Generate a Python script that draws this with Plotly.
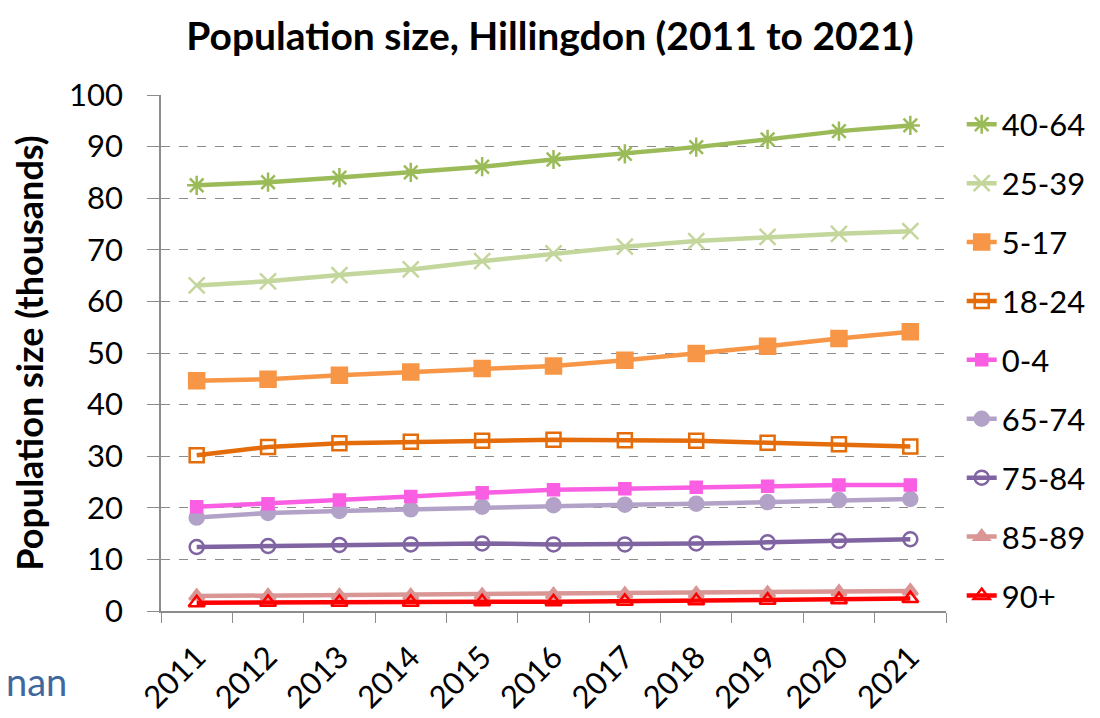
import plotly.graph_objects as go

years = ["2011", "2012", "2013", "2014", "2015", "2016", "2017", "2018", "2019", "2020", "2021"]

age_40_64 = [82.5, 83.1, 84.0, 85.0, 86.1, 87.5, 88.6, 89.9, 91.4, 93.0, 94.1]
age_25_39 = [63.1, 63.9, 65.1, 66.2, 67.8, 69.3, 70.6, 71.7, 72.5, 73.1, 73.6]
age_5_17 = [44.6, 44.9, 45.7, 46.3, 47.0, 47.5, 48.6, 49.9, 51.3, 52.8, 54.1]
age_18_24 = [30.2, 31.8, 32.5, 32.8, 33.0, 33.2, 33.1, 33.0, 32.6, 32.3, 31.9]
age_0_4 = [20.2, 20.8, 21.5, 22.2, 22.9, 23.5, 23.7, 24.0, 24.2, 24.4, 24.4]
age_65_74 = [18.1, 19.0, 19.4, 19.7, 20.2, 20.5, 20.6, 20.8, 21.1, 21.5, 21.7]
age_75_84 = [12.4, 12.6, 12.8, 12.9, 13.1, 12.9, 12.9, 13.1, 13.3, 13.6, 13.9]
age_85_89 = [2.9, 3.0, 3.0, 3.0, 3.1, 3.2, 3.3, 3.4, 3.5, 3.7, 3.9]
age_90_plus = [1.6, 1.7, 1.7, 1.7, 1.8, 1.8, 1.9, 2.0, 2.1, 2.2, 2.4]

FONT = "Lato"

# name, values, color, marker symbol, marker size, legend rank
series = [
    ("85-89", age_85_89, "#d99694", "triangle-up", 13, 8),
    ("90+", age_90_plus, "#ff0000", "triangle-up-open", 14, 9),
    ("75-84", age_75_84, "#8064a2", "circle-open", 14, 7),
    ("65-74", age_65_74, "#b3a2c7", "circle", 14, 6),
    ("0-4", age_0_4, "#f95ee3", "square", 11, 5),
    ("18-24", age_18_24, "#e46c0a", "square-open", 14, 4),
    ("5-17", age_5_17, "#f79646", "square", 15, 3),
    ("25-39", age_25_39, "#c3d69b", "x-thin-open", 16, 2),
    ("40-64", age_40_64, "#9bbb59", "asterisk-open", 16, 1),
]

fig = go.Figure()
for name, vals, color, sym, size, rank in series:
    fig.add_trace(go.Scatter(
        x=years, y=vals, name=name, mode="lines+markers",
        line=dict(color=color, width=4.5),
        marker=dict(symbol=sym, size=size, color=color,
                    line=dict(color=color, width=2.5)),
        legendrank=rank, legendgroup=name,
    ))

fig.update_layout(
    width=1100, height=718,
    margin=dict(l=161, r=154, t=95, b=107, autoexpand=False),
    paper_bgcolor="white", plot_bgcolor="white",
    font=dict(family=FONT, size=31, color="black"),
    title=dict(text="<b>Population size, Hillingdon (2011 to 2021)</b>",
               x=0.5, xanchor="center", y=0.95, yanchor="middle",
               font=dict(family=FONT, size=39, color="black")),
    showlegend=True,
    legend=dict(x=1.02, xanchor="left", y=0.995, yanchor="top",
                font=dict(family=FONT, size=31), tracegroupgap=15.6,
                itemwidth=30, bgcolor="rgba(0,0,0,0)", maxheight=700),
    annotations=[dict(text="nan", xref="paper", yref="paper", x=-0.2, y=-0.135,
                      xanchor="left", yanchor="middle", showarrow=False,
                      font=dict(family=FONT, size=38, color="#41689e"))],
)

fig.update_yaxes(
    range=[0, 100], dtick=10, showgrid=True, gridcolor="#8c8c8c", griddash="dash",
    gridwidth=1, showline=True, linecolor="#8c8c8c", linewidth=1.5,
    ticks="outside", ticklen=12, tickcolor="#8c8c8c", zeroline=False,
    ticklabelstandoff=18, automargin=False,
    tickfont=dict(family=FONT, size=31),
    title=dict(text="<b>Population size (thousands)</b>", standoff=14,
               font=dict(family=FONT, size=36)),
)
fig.update_xaxes(
    type="category", range=[-0.5, 10.5], showgrid=False, showline=True,
    linecolor="#8c8c8c", linewidth=1.5, ticks="outside", ticklen=10,
    tickcolor="#8c8c8c", tickson="boundaries", tickangle=-45,
    ticklabelstandoff=14, automargin=False,
    tickfont=dict(family=FONT, size=31),
)

fig.write_html("out.html")
